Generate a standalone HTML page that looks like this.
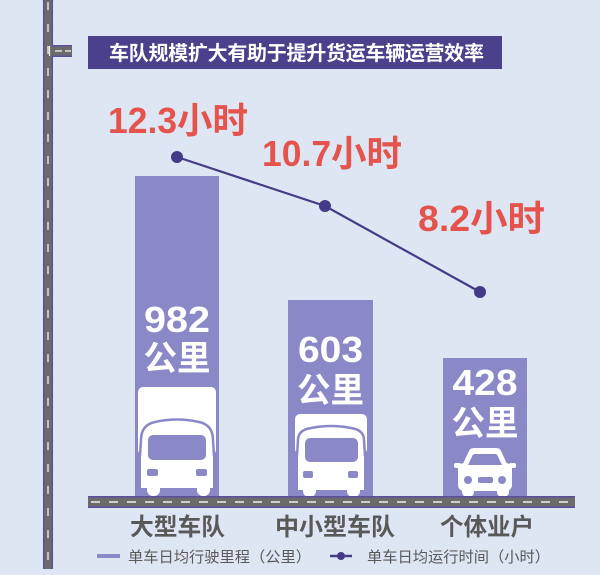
<!DOCTYPE html>
<html><head><meta charset="utf-8"><style>
html,body{margin:0;padding:0;background:#dfe6f3;}
svg{display:block;}
text{font-family:"Liberation Sans","Noto Sans CJK SC",sans-serif;}
</style></head><body>
<svg width="600" height="575" viewBox="0 0 600 575" xmlns="http://www.w3.org/2000/svg">
<rect x="0" y="0" width="600" height="575" fill="#dfe6f3"/>

<!-- vertical road -->
<rect x="43" y="0" width="10" height="569" fill="#6b6b6b"/>
<line x1="43.7" y1="0" x2="43.7" y2="569" stroke="#5b50a0" stroke-width="1.5"/>
<line x1="52.3" y1="0" x2="52.3" y2="569" stroke="#5b50a0" stroke-width="1.5"/>
<line x1="48" y1="2" x2="48" y2="569" stroke="#f2f2f2" stroke-width="1.3" stroke-dasharray="8 14"/>
<!-- stub -->
<rect x="50" y="45" width="22" height="12" fill="#6b6b6b"/>
<line x1="52" y1="45.7" x2="72" y2="45.7" stroke="#5b50a0" stroke-width="1.5"/>
<line x1="52" y1="56.3" x2="72" y2="56.3" stroke="#5b50a0" stroke-width="1.5"/>
<line x1="55" y1="51" x2="62" y2="51" stroke="#f2f2f2" stroke-width="1.3"/>
<line x1="65" y1="51" x2="71" y2="51" stroke="#f2f2f2" stroke-width="1.3"/>
<line x1="49.5" y1="46" x2="49.5" y2="56" stroke="#f2f2f2" stroke-width="1.2"/>

<!-- title -->
<rect x="88" y="36" width="414" height="33" fill="#4b408c"/>
<text x="109" y="60" font-size="20" font-weight="bold" fill="#ffffff" textLength="375" lengthAdjust="spacing">车队规模扩大有助于提升货运车辆运营效率</text>

<!-- bars -->
<rect x="135" y="176" width="84" height="322" fill="#8b88c8"/>
<rect x="288" y="300" width="85" height="198" fill="#8b88c8"/>
<rect x="443" y="358" width="84" height="140" fill="#8b88c8"/>

<!-- bar texts -->
<g fill="#ffffff" font-weight="bold" text-anchor="middle">
<text x="177" y="332" font-size="36" textLength="66" lengthAdjust="spacingAndGlyphs">982</text>
<text x="177" y="370" font-size="34" textLength="67" lengthAdjust="spacingAndGlyphs">公里</text>
<text x="330.5" y="362" font-size="36" textLength="65" lengthAdjust="spacingAndGlyphs">603</text>
<text x="330.5" y="402" font-size="34" textLength="67" lengthAdjust="spacingAndGlyphs">公里</text>
<text x="485" y="395" font-size="36" textLength="65" lengthAdjust="spacingAndGlyphs">428</text>
<text x="485" y="435" font-size="34" textLength="67" lengthAdjust="spacingAndGlyphs">公里</text>
</g>

<!-- truck 1 -->
<g>
<rect x="138" y="387" width="78" height="68" rx="5" fill="#ffffff"/>
<path d="M141,488 L141,440 Q141,425 155,422 Q177,417 199,422 Q213,425 213,440 L213,488 Z" fill="#ffffff"/>
<path d="M140,456 L141,440 Q141,425 155,422 Q177,417 199,422 Q213,425 213,440 L214,456" fill="none" stroke="#8b88c8" stroke-width="2.5"/>
<rect x="148" y="435" width="58" height="25" rx="5" fill="#8b88c8"/>
<rect x="147" y="469" width="11" height="7" rx="2" fill="#8b88c8"/>
<rect x="196" y="469" width="11" height="7" rx="2" fill="#8b88c8"/>
<rect x="147" y="482" width="13" height="14" rx="6" fill="#ffffff"/>
<rect x="197" y="482" width="13" height="14" rx="6" fill="#ffffff"/>
</g>

<!-- truck 2 -->
<g>
<rect x="295" y="414" width="72" height="40" rx="5" fill="#ffffff"/>
<path d="M298,490 L298,440 Q298,430 311,428 Q331,424 351,428 Q364,430 364,440 L364,490 Z" fill="#ffffff"/>
<path d="M297,456 L298,440 Q298,430 311,428 Q331,424 351,428 Q364,430 364,440 L365,456" fill="none" stroke="#8b88c8" stroke-width="2.5"/>
<rect x="305" y="438" width="53" height="24" rx="5" fill="#8b88c8"/>
<rect x="303" y="471" width="10" height="7" rx="2" fill="#8b88c8"/>
<rect x="348" y="471" width="10" height="7" rx="2" fill="#8b88c8"/>
<rect x="303" y="484" width="13" height="13" rx="6" fill="#ffffff"/>
<rect x="347" y="484" width="13" height="13" rx="6" fill="#ffffff"/>
</g>

<!-- car -->
<g>
<path d="M462,466 L469,451 Q470,448 474,448 L496,448 Q500,448 501,451 L508,466 Z" fill="#ffffff"/>
<rect x="458" y="463" width="54" height="28" rx="6" fill="#ffffff"/>
<rect x="454" y="463" width="7" height="5" rx="2" fill="#ffffff"/>
<rect x="509" y="463" width="7" height="5" rx="2" fill="#ffffff"/>
<path d="M468,465 L472.5,455.5 Q473,454 475,454 L495,454 Q497,454 497.5,455.5 L502,465 Z" fill="#8b88c8"/>
<circle cx="468" cy="480" r="4" fill="#8b88c8"/>
<circle cx="502" cy="480" r="4" fill="#8b88c8"/>
<rect x="478" y="477" width="15" height="6" rx="2" fill="#8b88c8"/>
<rect x="462" y="485" width="12" height="12" rx="5" fill="#ffffff"/>
<rect x="497" y="485" width="12" height="12" rx="5" fill="#ffffff"/>
</g>

<!-- horizontal road -->
<rect x="88" y="496" width="487" height="12" fill="#6b6b6b"/>
<line x1="88" y1="496.7" x2="575" y2="496.7" stroke="#5b50a0" stroke-width="1.5"/>
<line x1="88" y1="507.3" x2="575" y2="507.3" stroke="#5b50a0" stroke-width="1.5"/>
<line x1="91" y1="502" x2="575" y2="502" stroke="#f0f0f0" stroke-width="1.4" stroke-dasharray="9 9"/>

<!-- line series -->
<polyline points="177,157 325,206 480,292" fill="none" stroke="#443a87" stroke-width="2.2"/>
<circle cx="177" cy="157" r="6" fill="#443a87"/>
<circle cx="325" cy="206" r="6" fill="#443a87"/>
<circle cx="480" cy="292" r="6" fill="#443a87"/>

<!-- red labels -->
<g fill="#e4544d" font-weight="bold">
<text x="108" y="133" font-size="36" textLength="140" lengthAdjust="spacingAndGlyphs">12.3小时</text>
<text x="262" y="166" font-size="36" textLength="140" lengthAdjust="spacingAndGlyphs">10.7小时</text>
<text x="418" y="231" font-size="36" textLength="127" lengthAdjust="spacingAndGlyphs">8.2小时</text>
</g>

<!-- category labels -->
<g fill="#595959" font-weight="bold" font-size="24">
<text x="130" y="535" textLength="95" lengthAdjust="spacingAndGlyphs">大型车队</text>
<text x="275" y="535" textLength="120" lengthAdjust="spacingAndGlyphs">中小型车队</text>
<text x="440" y="535" textLength="94" lengthAdjust="spacingAndGlyphs">个体业户</text>
</g>

<!-- legend -->
<rect x="97" y="554" width="23" height="4" fill="#8b88c8"/>
<text x="128" y="562" font-size="15" fill="#595959" textLength="183" lengthAdjust="spacingAndGlyphs">单车日均行驶里程（公里）</text>
<line x1="330" y1="556" x2="352" y2="556" stroke="#443a87" stroke-width="2.5"/>
<circle cx="341" cy="556" r="4" fill="#443a87"/>
<text x="367" y="562" font-size="15" fill="#595959" textLength="183" lengthAdjust="spacingAndGlyphs">单车日均运行时间（小时）</text>
</svg>
</body></html>
